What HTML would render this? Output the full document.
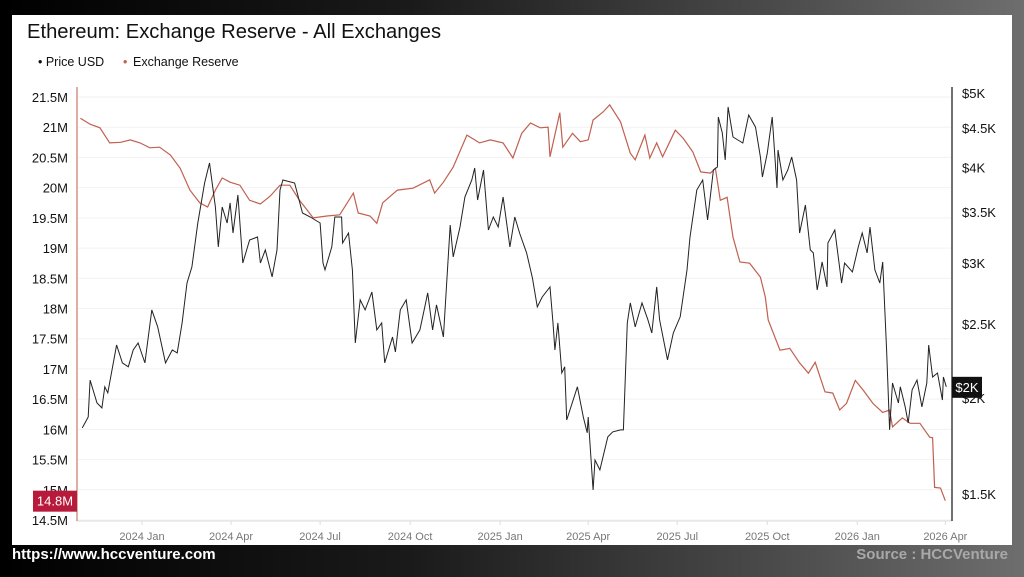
<!DOCTYPE html>
<html><head><meta charset="utf-8"><style>
html,body{margin:0;padding:0;width:1024px;height:577px;overflow:hidden;background:linear-gradient(90deg,#000 0%,#1a1a1a 40%,#4a4a4a 75%,#6e6e6e 100%);font-family:"Liberation Sans",sans-serif;}
#panel{position:absolute;left:12px;top:15px;width:1000px;height:530px;background:#fff;}
#footer-url{position:absolute;left:12px;top:546px;color:#fff;font-weight:bold;font-size:15px;}
#footer-src{position:absolute;right:16px;top:546px;color:#a8a8a8;font-weight:bold;font-size:15px;}
svg{position:absolute;left:0;top:0;}
</style></head><body>
<div id="panel"></div>
<div id="footer-url">https://www.hccventure.com</div>
<div id="footer-src">Source : HCCVenture</div>
<svg id="chart" width="1024" height="577"></svg>
<script>
const reserveDays=[-63,-53,-43,-33,-22,-12,-2,8,18,29,39,49,59,67,75,82,90,100,110,121,131,141,151,161,175,189,202,216,221,233,240,246,261,277,294,299,308,318,332,345,356,369,379,388,397,407,415,417,427,430,440,448,456,461,471,478,489,499,504,514,519,526,532,545,553,563,571,581,586,591,598,604,611,621,632,637,640,652,662,672,681,688,698,706,713,720,729,737,747,757,764,767,777,785,795,805,808,810,816,821];
const reserveValues=[21.15,21.05,20.99,20.74,20.75,20.79,20.74,20.66,20.67,20.54,20.32,19.96,19.75,19.68,19.96,20.16,20.09,20.04,19.79,19.73,19.86,20.04,20.04,19.79,19.50,19.53,19.55,19.91,19.58,19.53,19.41,19.75,19.96,19.99,20.13,19.91,20.09,20.34,20.87,20.74,20.79,20.74,20.49,20.90,21.07,20.99,21.00,20.51,21.24,20.67,20.90,20.76,20.79,21.12,21.25,21.37,21.09,20.57,20.46,20.87,20.49,20.74,20.51,20.95,20.82,20.59,20.26,20.24,20.32,19.79,19.84,19.18,18.77,18.75,18.52,18.19,17.81,17.31,17.34,17.10,16.93,17.11,16.62,16.60,16.32,16.43,16.81,16.65,16.43,16.28,16.32,16.04,16.19,16.10,16.10,15.87,15.86,15.04,15.03,14.82];
const priceDays=[-61,-55,-53,-46,-41,-38,-35,-26,-20,-14,-9,-4,3,10,16,24,31,36,41,46,51,57,64,69,75,78,82,87,90,93,98,103,110,118,121,126,133,138,141,144,156,164,172,182,185,187,194,197,204,205,211,215,218,223,228,235,240,245,248,256,259,264,270,276,284,289,292,297,301,308,315,318,325,330,337,340,343,349,354,359,364,369,376,381,386,393,399,404,409,417,420,422,425,429,432,434,445,451,455,456,461,463,468,476,481,489,492,496,499,504,511,517,521,526,529,537,543,550,557,560,567,573,578,584,588,589,593,596,599,604,609,614,620,627,632,634,639,644,645,649,650,655,660,664,669,672,678,683,686,690,695,700,701,708,715,718,726,732,736,741,744,749,754,757,761,764,767,773,775,780,783,787,792,797,802,804,808,813,818,819,822];
const priceValues=[1829,1890,2111,1971,1942,2069,2032,2346,2223,2197,2311,2360,2223,2607,2477,2223,2311,2291,2507,2826,2966,3384,3816,4052,3551,3150,3551,3384,3594,3284,3681,3001,3216,3245,3001,3121,2878,3121,3737,3850,3816,3487,3446,3384,3001,2939,3150,3446,3446,3187,3284,2939,2360,2686,2607,2751,2455,2507,2223,2403,2298,2607,2686,2360,2455,2630,2743,2455,2646,2403,3364,3056,3344,3659,3850,3992,3626,3968,3314,3446,3344,3659,3150,3446,3280,3093,2870,2630,2710,2793,2507,2311,2507,2157,2197,1873,2069,1890,1802,1890,1518,1661,1612,1780,1807,1818,1818,2507,2662,2477,2662,2530,2432,2793,2530,2243,2432,2553,2939,3245,3737,3850,3415,3968,4004,4653,4434,4089,4794,4381,4342,4303,4681,4514,4126,3885,4176,4653,4474,3759,4214,3850,3968,4126,3850,3284,3572,3121,3093,2768,3010,2793,3187,3314,2826,3001,2922,3150,3284,3093,3344,2939,2826,3010,2311,1818,2093,1971,2069,1948,1856,2050,2111,1948,2093,2346,2131,2157,1989,2131,2069];
const leftTicks=[14.5,15,15.5,16,16.5,17,17.5,18,18.5,19,19.5,20,20.5,21,21.5];
const rightTicks=[1500,2000,2500,3000,3500,4000,4500,5000];
const xTickDays=[0,91,182,274,366,456,547,639,731,821];
const xTickLabels=["2024 Jan","2024 Apr","2024 Jul","2024 Oct","2025 Jan","2025 Apr","2025 Jul","2025 Oct","2026 Jan","2026 Apr"];

const svg=document.getElementById('chart');const NS='http://www.w3.org/2000/svg';
function X(d){return 142+d*0.9785;}
function YL(v){return 97+(21.5-v)*60.43;}
function YR(p){return 93+333*Math.log(5000/p);}
function mk(tag,attrs,name,txt){const e=document.createElementNS(NS,tag);for(const k in attrs)e.setAttribute(k,attrs[k]);


if(txt!==undefined)e.textContent=txt;svg.appendChild(e);return e;}
mk('text',{x:27,y:38,'font-size':20.2,fill:'#111'},'chart-title','Ethereum: Exchange Reserve - All Exchanges');
mk('text',{x:38,y:66,'font-size':12.5,fill:'#111'},'legend-price-usd','• Price USD');
mk('text',{x:133,y:66,'font-size':12.5,fill:'#111'},'legend-exchange-reserve-label','Exchange Reserve');
mk('text',{x:123,y:66,'font-size':12.5,fill:'#c0604f'},'legend-exchange-reserve-dot','•');
leftTicks.forEach(v=>{const y=YL(v);
mk('line',{x1:78,x2:951,y1:y,y2:y,stroke:'#f2f2f2','stroke-width':1},'grid-line');
mk('text',{x:68,y:y+5,'font-size':13,fill:'#111','text-anchor':'end'},'left-tick-label',(v)+'M');});
rightTicks.forEach(p=>{const y=YR(p);
mk('text',{x:962,y:y+5,'font-size':13,fill:'#111'},'right-tick-label','$'+(p/1000)+'K');});
mk('line',{x1:77,x2:952,y1:521,y2:521,stroke:'#ddd','stroke-width':1},'x-axis-line');
xTickDays.forEach((d,i)=>{const x=X(d);
mk('line',{x1:x,x2:x,y1:521,y2:525,stroke:'#ddd'},'x-tick');
mk('text',{x:x,y:540,'font-size':11,fill:'#777','text-anchor':'middle'},'x-tick-label',xTickLabels[i]);});
mk('line',{x1:77,x2:77,y1:87,y2:521,stroke:'#c9786a','stroke-width':1.2},'left-axis-line');
mk('line',{x1:952,x2:952,y1:87,y2:521,stroke:'#111','stroke-width':1.2},'right-axis-line');
let pr='';reserveDays.forEach((d,i)=>{pr+=(i?'L':'M')+X(d).toFixed(1)+','+YL(reserveValues[i]).toFixed(1);});
mk('path',{d:pr,fill:'none',stroke:'#c0604f','stroke-width':1.2},'exchange-reserve-line');
let pp='';priceDays.forEach((d,i)=>{pp+=(i?'L':'M')+X(d).toFixed(1)+','+YR(priceValues[i]).toFixed(1);});
mk('path',{d:pp,fill:'none',stroke:'#222','stroke-width':1},'price-usd-line');
const lr=reserveValues[reserveValues.length-1];const ly=YL(lr);
mk('rect',{x:33,y:ly-10,width:44,height:21,fill:'#b81a3c'},'reserve-last-value-box');
mk('text',{x:55,y:ly+5,'font-size':13,fill:'#fff','text-anchor':'middle'},'reserve-last-value',(Math.round(lr*10)/10)+'M');
const lp=priceValues[priceValues.length-1];const py=YR(lp);
mk('rect',{x:952,y:py-10,width:30,height:21,fill:'#111'},'price-last-value-box');
mk('text',{x:967,y:py+5,'font-size':13,fill:'#fff','text-anchor':'middle'},'price-last-value','$'+Math.round(lp/1000)+'K');
</script>
</body></html>
